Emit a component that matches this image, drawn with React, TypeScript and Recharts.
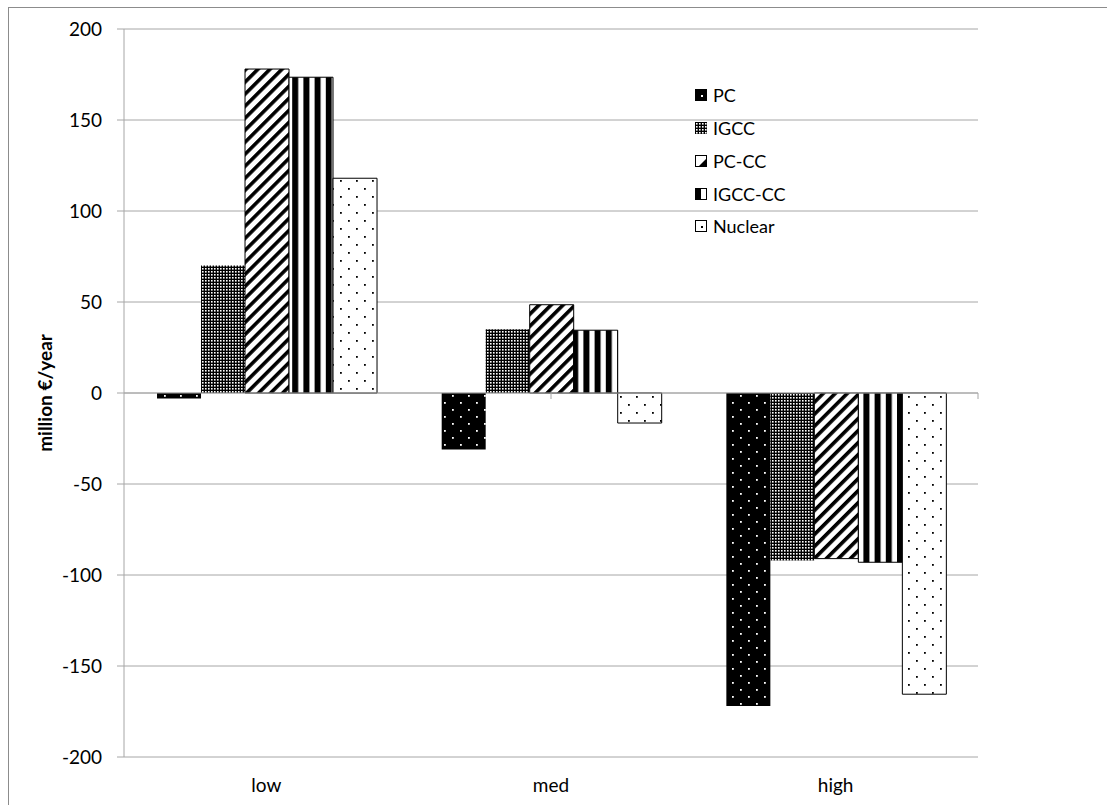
import React from 'react';
import { BarChart, Bar, XAxis, YAxis, CartesianGrid, ReferenceLine, Legend } from 'recharts';

const categories = ['low', 'med', 'high'];
const pcValues = [-3, -31, -172];
const igccValues = [70, 35, -92];
const pcccValues = [178, 48.5, -91];
const igccccValues = [173.5, 34.5, -93];
const nuclearValues = [118, -16.5, -165.5];
const yTicks = [-200, -150, -100, -50, 0, 50, 100, 150, 200];
const seriesNames = ['PC', 'IGCC', 'PC-CC', 'IGCC-CC', 'Nuclear'];
const boundaryTicks = [1, 2, 3];

const data = categories.map((c, i) => ({
  name: c,
  PC: pcValues[i],
  IGCC: igccValues[i],
  'PC-CC': pcccValues[i],
  'IGCC-CC': igccccValues[i],
  Nuclear: nuclearValues[i],
}));

const patternIds: Record<string, string> = {
  PC: 'pPC',
  IGCC: 'pIGCC',
  'PC-CC': 'pPCCC',
  'IGCC-CC': 'pIGCCCC',
  Nuclear: 'pNuc',
};

const FONT = 'Lato, "Open Sans", sans-serif';
const GRID = '#a6a6a6';

function Marker({ name }: { name: string }) {
  const s = 12;
  let inner: React.ReactNode = null;
  if (name === 'PC') {
    inner = (
      <>
        <rect x={0} y={0} width={s} height={s} fill="#000" />
        <rect x={6} y={6} width={2} height={2} fill="#fff" />
      </>
    );
  } else if (name === 'IGCC') {
    inner = <rect x={0} y={0} width={s} height={s} fill="url(#pIGCC)" />;
  } else if (name === 'PC-CC') {
    inner = (
      <>
        <rect x={0.5} y={0.5} width={s - 1} height={s - 1} fill="#fff" stroke="#000" />
        <polygon points={`${s},3 ${s},${s} 3,${s}`} fill="#000" />
      </>
    );
  } else if (name === 'IGCC-CC') {
    inner = (
      <>
        <rect x={0.5} y={0.5} width={s - 1} height={s - 1} fill="#fff" stroke="#000" />
        <rect x={0} y={0} width={6} height={s} fill="#000" />
      </>
    );
  } else {
    inner = (
      <>
        <rect x={0.5} y={0.5} width={s - 1} height={s - 1} fill="#fff" stroke="#000" />
        <rect x={6} y={6} width={2} height={2} fill="#000" />
      </>
    );
  }
  return (
    <svg width={s} height={s} style={{ display: 'block' }}>
      {inner}
    </svg>
  );
}

function LegendContent() {
  return (
    <div style={{ fontFamily: FONT, fontSize: 18, color: '#000' }}>
      {seriesNames.map((n) => (
        <div key={n} style={{ display: 'flex', alignItems: 'center', height: 32.75 }}>
          <Marker name={n} />
          <span style={{ marginLeft: 6 }}>{n}</span>
        </div>
      ))}
    </div>
  );
}

export default function App() {
  return (
    <div style={{ position: 'absolute', left: 0, top: 0, width: 1107, height: 805, background: '#fff', overflow: 'hidden' }}>
      <div
        style={{
          position: 'absolute',
          left: 8,
          top: 7,
          width: 1120,
          height: 820,
          borderLeft: '1px solid #8c8c8c',
          borderTop: '1px solid #8c8c8c',
          boxSizing: 'border-box',
        }}
      />
      <div style={{ position: 'absolute', left: 0, top: 0 }}>
        <BarChart
          width={1107}
          height={805}
          data={data}
          margin={{ top: 29, right: 129, left: 64, bottom: 18 }}
          barCategoryGap="11.6%"
          barGap={0}
        >
          <defs>
            <pattern id="pPC" patternUnits="userSpaceOnUse" width={16} height={14}>
              <rect width={16} height={14} fill="#000" />
              <rect x={4} y={3} width={1.8} height={1.8} fill="#fff" />
              <rect x={12} y={10} width={1.8} height={1.8} fill="#fff" />
            </pattern>
            <pattern id="pIGCC" patternUnits="userSpaceOnUse" width={3} height={3}>
              <rect width={3} height={3} fill="#000" />
              <rect x={1} y={1} width={1.6} height={1.6} fill="#fff" />
            </pattern>
            <pattern id="pPCCC" patternUnits="userSpaceOnUse" width={8.5} height={8.5} patternTransform="rotate(45)">
              <rect width={8.5} height={8.5} fill="#fff" />
              <rect x={0} y={0} width={3.6} height={8.5} fill="#000" />
            </pattern>
            <pattern id="pIGCCCC" patternUnits="userSpaceOnUse" width={11.2} height={10} x={1}>
              <rect width={11.2} height={10} fill="#fff" />
              <rect x={0} y={0} width={6} height={10} fill="#000" />
            </pattern>
            <pattern id="pNuc" patternUnits="userSpaceOnUse" width={16} height={16}>
              <rect width={16} height={16} fill="#fff" />
              <rect x={4} y={4} width={1.8} height={1.8} fill="#000" />
              <rect x={12} y={12} width={1.8} height={1.8} fill="#000" />
            </pattern>
          </defs>
          <CartesianGrid vertical={false} stroke={GRID} strokeWidth={1} />
          <XAxis
            dataKey="name"
            axisLine={false}
            tickLine={false}
            tickSize={0}
            tickMargin={22}
            height={30}
            tick={{ fontSize: 19, fill: '#000', fontFamily: FONT }}
          />
          <XAxis xAxisId="num" type="number" domain={[0, 3]} hide />
          <YAxis
            domain={[-200, 200]}
            ticks={yTicks}
            width={60}
            axisLine={{ stroke: GRID }}
            tickLine={{ stroke: GRID }}
            tickSize={7}
            tickMargin={15}
            tick={{ fontSize: 19, fill: '#000', fontFamily: FONT }}
            label={{
              value: 'million €/year',
              angle: -90,
              position: 'insideLeft',
              offset: 0,
              dx: -19,
              style: { fontSize: 19, fontWeight: 'bold', fill: '#000', fontFamily: FONT, textAnchor: 'middle' },
            }}
          />
          <ReferenceLine y={0} stroke={GRID} strokeWidth={1} />
          {boundaryTicks.map((b) => (
            <ReferenceLine
              key={b}
              xAxisId="num"
              segment={[
                { x: b, y: 0 },
                { x: b, y: -3.3 },
              ]}
              stroke={GRID}
              strokeWidth={1}
              ifOverflow="visible"
            />
          ))}
          {seriesNames.map((n) => (
            <Bar
              key={n}
              dataKey={n}
              fill={`url(#${patternIds[n]})`}
              stroke={n === 'IGCC' || n === 'PC' ? 'none' : '#000'}
              strokeWidth={1}
              isAnimationActive={false}
            />
          ))}
          <Legend
            layout="vertical"
            align="center"
            verticalAlign="middle"
            content={<LegendContent />}
            wrapperStyle={{ left: 695, top: 79, width: 140 }}
          />
        </BarChart>
      </div>
    </div>
  );
}
